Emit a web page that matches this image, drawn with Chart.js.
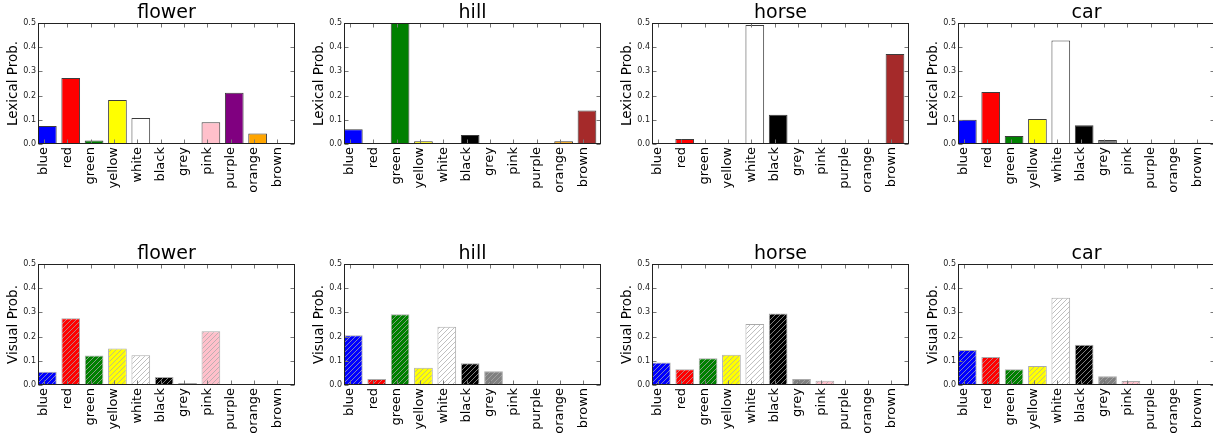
<!DOCTYPE html>
<html><head><meta charset="utf-8">
<script src="https://cdn.jsdelivr.net/npm/chart.js@4.4.0/dist/chart.umd.min.js"></script>
<style>
html,body{margin:0;padding:0;background:#fff;overflow:hidden;width:1213px;height:433px;}
.p{position:absolute;width:298px;height:199px;}
canvas{display:block;}
</style></head><body>
<div class="p" style="left:0px;top:0px"><canvas id="c0" width="298" height="199"></canvas></div>
<div class="p" style="left:306px;top:0px"><canvas id="c1" width="298" height="199"></canvas></div>
<div class="p" style="left:614px;top:0px"><canvas id="c2" width="298" height="199"></canvas></div>
<div class="p" style="left:920px;top:0px"><canvas id="c3" width="298" height="199"></canvas></div>
<div class="p" style="left:0px;top:241px"><canvas id="c4" width="298" height="199"></canvas></div>
<div class="p" style="left:306px;top:241px"><canvas id="c5" width="298" height="199"></canvas></div>
<div class="p" style="left:614px;top:241px"><canvas id="c6" width="298" height="199"></canvas></div>
<div class="p" style="left:920px;top:241px"><canvas id="c7" width="298" height="199"></canvas></div>
<script>
// ---- data ----
const categories = ['blue','red','green','yellow','white','black','grey','pink','purple','orange','brown'];
const barColors = ['#0000ff','#ff0000','#008000','#ffff00','#ffffff','#000000','#808080','#ffc0cb','#800080','#ffa500','#a52a2a'];
const subjects = ['flower','hill','horse','car'];
const yTickValues = [0, 0.1, 0.2, 0.3, 0.4, 0.5];
const rowLabels = ['Lexical Prob.', 'Visual Prob.'];

const lexicalFlower = [0.074, 0.273, 0.014, 0.182, 0.107, 0, 0, 0.090, 0.212, 0.043, 0];
const lexicalHill   = [0.061, 0, 0.500, 0.011, 0, 0.037, 0, 0, 0, 0.011, 0.138];
const lexicalHorse  = [0, 0.021, 0, 0, 0.492, 0.121, 0, 0, 0, 0, 0.372];
const lexicalCar    = [0.100, 0.215, 0.033, 0.103, 0.428, 0.077, 0.017, 0, 0.004, 0.004, 0.005];

const visualFlower = [0.055, 0.276, 0.122, 0.151, 0.123, 0.033, 0.008, 0.222, 0, 0, 0];
const visualHill   = [0.206, 0.025, 0.292, 0.071, 0.241, 0.090, 0.057, 0.004, 0, 0, 0];
const visualHorse  = [0.093, 0.065, 0.111, 0.125, 0.252, 0.295, 0.025, 0.018, 0, 0, 0];
const visualCar    = [0.145, 0.116, 0.065, 0.079, 0.361, 0.166, 0.036, 0.017, 0, 0, 0];

const lexicalRows = [lexicalFlower, lexicalHill, lexicalHorse, lexicalCar];
const visualRows = [visualFlower, visualHill, visualHorse, visualCar];

const BAR_OFFSET = 0.4;   // bar centre within unit slot
const TICK_OFFSET = 0.25; // tick label position within unit slot

// ---- helpers ----
function makeHatch(color){
  const s = 5;
  const c = document.createElement('canvas');
  c.width = s; c.height = s;
  const g = c.getContext('2d');
  g.fillStyle = color; g.fillRect(0,0,s,s);
  g.strokeStyle = 'rgba(170,170,170,0.75)';
  g.lineWidth = 1;
  g.beginPath();
  g.moveTo(-1, s+1); g.lineTo(s+1, -1);
  g.moveTo(-1, 1); g.lineTo(1, -1);
  g.moveTo(s-1, s+1); g.lineTo(s+1, s-1);
  g.stroke();
  return g.createPattern(c, 'repeat');
}

const framePlugin = {
  id: 'frame',
  afterDatasetsDraw(chart){
    const {ctx, chartArea: a, scales: {x, y}} = chart;
    ctx.save();
    ctx.strokeStyle = '#777';
    ctx.lineWidth = 1;
    ctx.beginPath();
    const L = Math.round(a.left)+0.5, R = Math.round(a.right)-0.5, T = Math.round(a.top)+0.5, B = Math.round(a.bottom)-0.5;
    yTickValues.forEach(v => {
      const py = Math.round(y.getPixelForValue(v)) + 0.5;
      ctx.moveTo(L, py); ctx.lineTo(L + 4, py);
      ctx.moveTo(R, py); ctx.lineTo(R - 4, py);
    });
    categories.forEach((c, i) => {
      const px = Math.round(x.getPixelForValue(i + TICK_OFFSET)) + 0.5;
      ctx.moveTo(px, T); ctx.lineTo(px, T + 4);
      ctx.moveTo(px, B); ctx.lineTo(px, B - 4);
    });
    ctx.stroke();
    ctx.strokeStyle = '#222';
    ctx.strokeRect(L, T, R - L, B - T);
    ctx.restore();
  }
};

function buildChart(id, title, values, row){
  const hatched = row === 1;
  const bg = barColors.map(c => hatched ? makeHatch(c) : c);
  const data = values.map((v, i) => ({x: i + BAR_OFFSET, y: v}));
  return new Chart(document.getElementById(id), {
    type: 'bar',
    data: { datasets: [{
      data,
      backgroundColor: bg,
      borderColor: hatched ? '#aaaaaa' : '#3c3c3c',
      borderWidth: 1,
      borderSkipped: false,
      barPercentage: 0.8,
      categoryPercentage: 1.0
    }]},
    options: {
      responsive: false,
      animation: false,
      events: [],
      layout: { padding: { left: 0, right: 3, top: 0, bottom: 0 } },
      plugins: {
        legend: { display: false },
        tooltip: { enabled: false },
        title: {
          display: true, text: title, fullSize: false,
          color: '#000',
          font: { family: 'DejaVu Sans', size: 19, weight: 'normal', lineHeight: 1.0 },
          padding: { top: 4, bottom: 0 }
        }
      },
      scales: {
        x: {
          type: 'linear', min: 0, max: 11, offset: false,
          grid: { display: false, drawTicks: false },
          border: { display: false },
          afterBuildTicks: s => { s.ticks = categories.map((c, i) => ({ value: i + TICK_OFFSET })); },
          afterFit: s => { s.height = 55; },
          ticks: {
            autoSkip: false, minRotation: 90, maxRotation: 90, padding: 3,
            color: '#000',
            font: { family: 'DejaVu Sans', size: 13 },
            callback: (v, idx) => categories[idx]
          }
        },
        y: {
          min: 0, max: 0.5,
          grid: { display: false, drawTicks: false },
          border: { display: false },
          afterBuildTicks: s => { s.ticks = yTickValues.map(v => ({ value: v })); },
          afterFit: s => { s.width = 38; },
          ticks: {
            padding: 2, color: '#222',
            font: { family: 'DejaVu Sans', size: 8 },
            callback: v => Number(v).toFixed(1)
          },
          title: {
            display: true, text: rowLabels[row], color: '#000',
            font: { family: 'DejaVu Sans', size: 13.5 },
            padding: { top: 5, bottom: 0 }
          }
        }
      }
    },
    plugins: [framePlugin]
  });
}

subjects.forEach((s, i) => buildChart('c' + i, s, lexicalRows[i], 0));
subjects.forEach((s, i) => buildChart('c' + (i + 4), s, visualRows[i], 1));
</script>
</body></html>
